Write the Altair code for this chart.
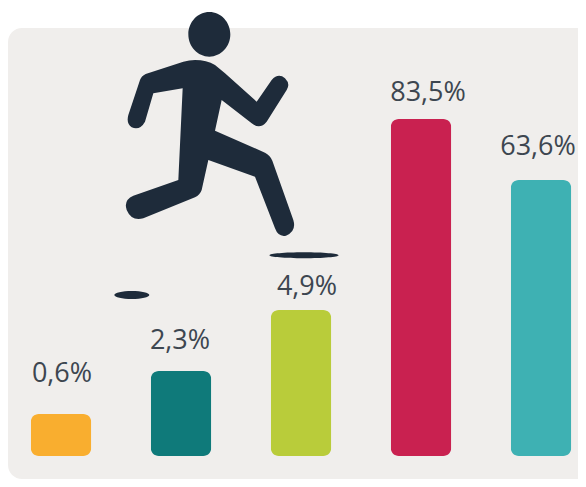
import altair as alt
import pandas as pd

labels = ["0,6%", "2,3%", "4,9%", "83,5%", "63,6%"]
categories = ["A", "B", "C", "D", "E"]
bar_levels = [42, 85, 146, 337, 276]
label_levels = [74, 107, 161, 355, 301]
label_nudges = [31, 29, 36, 37, 27]
colors = ["#f9ae2f", "#0f7a7a", "#b9cc3a", "#c92150", "#3eb1b3"]

RUNNER = (
    "M265,103 A63,67 0 1 1 391,103 A63,67 0 1 1 265,103 Z "
    "M285,180 Q320,180 345,195 L375,220 L470,305 L515,240 Q535,218 555,235 Q572,252 560,270 "
    "L500,365 Q480,390 455,370 L365,300 L345,392 L495,458 Q510,465 517,482 L580,660 "
    "Q590,695 558,707 Q535,712 525,685 L465,530 L325,480 L305,570 Q300,585 285,592 L130,655 "
    "Q95,665 80,630 Q70,600 100,587 L235,540 L248,265 L160,280 L135,365 Q120,392 95,382 "
    "Q78,370 85,345 L120,240 Q124,228 137,222 L250,185 Q268,180 285,180 Z "
    "M43,885 A52,12 0 1 1 148,885 A52,12 0 1 1 43,885 Z "
    "M508,766 A104,9 0 1 1 716,766 A104,9 0 1 1 508,766 Z"
)

df = pd.DataFrame({
    "category": categories,
    "level": bar_levels,
    "label": labels,
    "label_level": label_levels,
    "nudge": label_nudges,
    "color": colors,
})

one = alt.Data(values=[{"a": 1}])

panel = alt.Chart(one).mark_rect(color="#f0eeec", cornerRadius=14).encode(
    x=alt.value(0), x2=alt.value(640), y=alt.value(20), y2=alt.value(471)
)

x_enc = alt.X("category:N", sort=categories, axis=None,
              scale=alt.Scale(range=[23, 563], paddingInner=0.5, paddingOuter=0))
y_scale = alt.Scale(domain=[0, 448], range=[448, 0])

bars = alt.Chart(df).mark_bar(cornerRadius=8, size=60.5).encode(
    x=x_enc,
    y=alt.Y("level:Q", scale=y_scale, axis=None),
    color=alt.Color("color:N", scale=None),
)

texts = alt.Chart(df).mark_text(
    font="Open Sans", fontSize=27, color="#3d4650", baseline="alphabetic", align="center"
).encode(
    x=x_enc,
    xOffset=alt.XOffset("nudge:Q", scale=alt.Scale(domain=[-50, 50], range=[-50, 50])),
    y=alt.Y("label_level:Q", scale=y_scale, axis=None),
    text="label:N",
)

runner = alt.Chart(one).mark_point(
    shape=RUNNER, filled=True, size=4 / 9, color="#1e2b3a", opacity=1, strokeWidth=0
).encode(x=alt.value(92), y=alt.value(-8))

chart = alt.layer(panel, bars, texts, runner).properties(
    width=570, height=471, padding=0, background="white",
    autosize=alt.AutoSizeParams(type="none"),
).configure_view(stroke=None)

chart.save("out.html", embed_options={"renderer": "svg", "actions": False})
